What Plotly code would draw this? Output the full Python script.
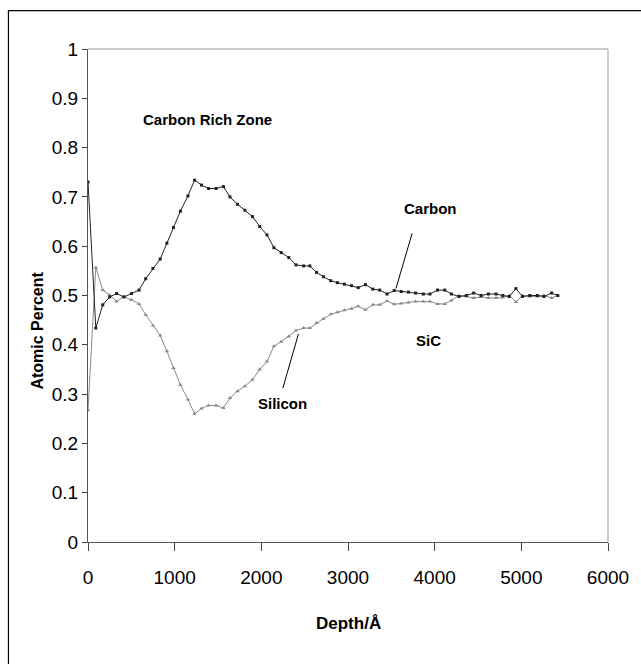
import plotly.graph_objects as go

depth = [0, 90, 170, 250, 330, 414, 502, 589, 666, 749, 833, 910, 986, 1066, 1153,
         1230, 1310, 1390, 1478, 1562, 1638, 1725, 1810, 1897, 1981, 2065, 2145, 2229,
         2317, 2400, 2488, 2560, 2637, 2717, 2801, 2878, 2958, 3041, 3118, 3202, 3286,
         3366, 3450, 3533, 3614, 3698, 3780, 3869, 3945, 4033, 4117, 4193, 4281, 4365,
         4450, 4536, 4620, 4708, 4785, 4860, 4937, 5014, 5097, 5185, 5261, 5349, 5420]

carbon = [0.730, 0.434, 0.481, 0.497, 0.504, 0.497, 0.504, 0.511, 0.534, 0.555,
          0.574, 0.606, 0.638, 0.671, 0.702, 0.734, 0.724, 0.717, 0.717, 0.721,
          0.700, 0.685, 0.673, 0.660, 0.640, 0.623, 0.597, 0.587, 0.577, 0.562,
          0.560, 0.560, 0.547, 0.538, 0.530, 0.526, 0.523, 0.520, 0.516, 0.522,
          0.513, 0.511, 0.503, 0.510, 0.508, 0.507, 0.505, 0.503, 0.503, 0.511,
          0.511, 0.503, 0.498, 0.500, 0.505, 0.500, 0.503, 0.503, 0.500, 0.498,
          0.514, 0.498, 0.500, 0.500, 0.498, 0.505, 0.500]

silicon = [0.267, 0.557, 0.511, 0.501, 0.488, 0.498, 0.491, 0.483, 0.461, 0.439,
           0.419, 0.387, 0.353, 0.319, 0.289, 0.260, 0.271, 0.277, 0.277, 0.272,
           0.292, 0.306, 0.316, 0.329, 0.350, 0.366, 0.397, 0.406, 0.417, 0.429,
           0.434, 0.434, 0.444, 0.453, 0.462, 0.466, 0.470, 0.473, 0.478, 0.471,
           0.481, 0.481, 0.489, 0.482, 0.484, 0.486, 0.488, 0.488, 0.488, 0.483,
           0.483, 0.490, 0.500, 0.498, 0.495, 0.497, 0.495, 0.495, 0.496, 0.500,
           0.487, 0.500, 0.498, 0.498, 0.500, 0.495, 0.500]

x_ticks = [0, 1000, 2000, 3000, 4000, 5000, 6000]
y_ticks = [0, 0.1, 0.2, 0.3, 0.4, 0.5, 0.6, 0.7, 0.8, 0.9, 1]
y_tick_labels = ["0", "0.1", "0.2", "0.3", "0.4", "0.5", "0.6", "0.7", "0.8", "0.9", "1"]

FONT = "Liberation Sans, Arial, sans-serif"

fig = go.Figure()
fig.add_trace(go.Scatter(x=depth, y=silicon, mode="lines+markers", name="Silicon",
                         line=dict(color="#8a8a8a", width=1),
                         marker=dict(symbol="triangle-up", size=4, color="#8a8a8a")))
fig.add_trace(go.Scatter(x=depth, y=carbon, mode="lines+markers", name="Carbon",
                         line=dict(color="#222222", width=1),
                         marker=dict(symbol="square", size=3, color="#222222")))

labels = [
    ("Carbon Rich Zone", 1376, 0.858),
    ("Carbon", 3950, 0.676),
    ("Silicon", 2245, 0.280),
    ("SiC", 3925, 0.408),
]
annotations = [dict(x=x, y=y, xref="x", yref="y", text="<b>" + t + "</b>", showarrow=False,
                    xanchor="center", yanchor="middle",
                    font=dict(family=FONT, size=15, color="black"))
               for t, x, y in labels]
annotations.append(dict(x=0.5, y=-0.166, xref="paper", yref="paper", text="<b>Depth/Å</b>",
                        xanchor="center", yanchor="middle", showarrow=False,
                        font=dict(family=FONT, size=17, color="black")))
annotations.append(dict(x=-0.097, y=0.428, xref="paper", yref="paper",
                        text="<b>Atomic Percent</b>", textangle=-90, showarrow=False,
                        xanchor="center", yanchor="middle",
                        font=dict(family=FONT, size=16, color="black")))

shapes = [
    dict(type="line", xref="x", yref="y", x0=3740, y0=0.626, x1=3553, y1=0.514,
         line=dict(color="black", width=1)),
    dict(type="line", xref="x", yref="y", x0=2248, y0=0.312, x1=2428, y1=0.422,
         line=dict(color="black", width=1)),
    # plot frame top and right (gray)
    dict(type="line", xref="paper", yref="paper", x0=0, y0=1, x1=1, y1=1,
         line=dict(color="#999999", width=1)),
    dict(type="line", xref="paper", yref="paper", x0=1, y0=0, x1=1, y1=1,
         line=dict(color="#999999", width=1)),
    # outer border
    dict(type="rect", xref="paper", yref="paper", x0=-0.153, y0=-0.4, x1=1.2, y1=1.078,
         line=dict(color="black", width=1.2), layer="below"),
]

fig.update_layout(
    width=641, height=664,
    margin=dict(l=88, r=27, t=49, b=122),
    paper_bgcolor="white", plot_bgcolor="white",
    showlegend=False,
    annotations=annotations,
    shapes=shapes,
    font=dict(family=FONT, color="black"),
)
fig.update_xaxes(range=[0, 6000], tickvals=x_ticks, ticks="outside", ticklen=8,
                 tickcolor="#444", showline=True, linecolor="#555", linewidth=1,
                 showgrid=False, zeroline=False, ticklabelstandoff=10,
                 tickfont=dict(family=FONT, size=19, color="black"))
fig.update_yaxes(range=[0, 1], tickvals=y_ticks, ticktext=y_tick_labels, ticks="outside",
                 ticklen=5, tickcolor="#444", showline=True, linecolor="#555", linewidth=1,
                 showgrid=False, zeroline=False,
                 tickfont=dict(family=FONT, size=19, color="black"))

fig.write_html("out.html", config={"displayModeBar": False},
               post_script="document.body.style.margin='0';document.body.style.overflow='hidden';")
